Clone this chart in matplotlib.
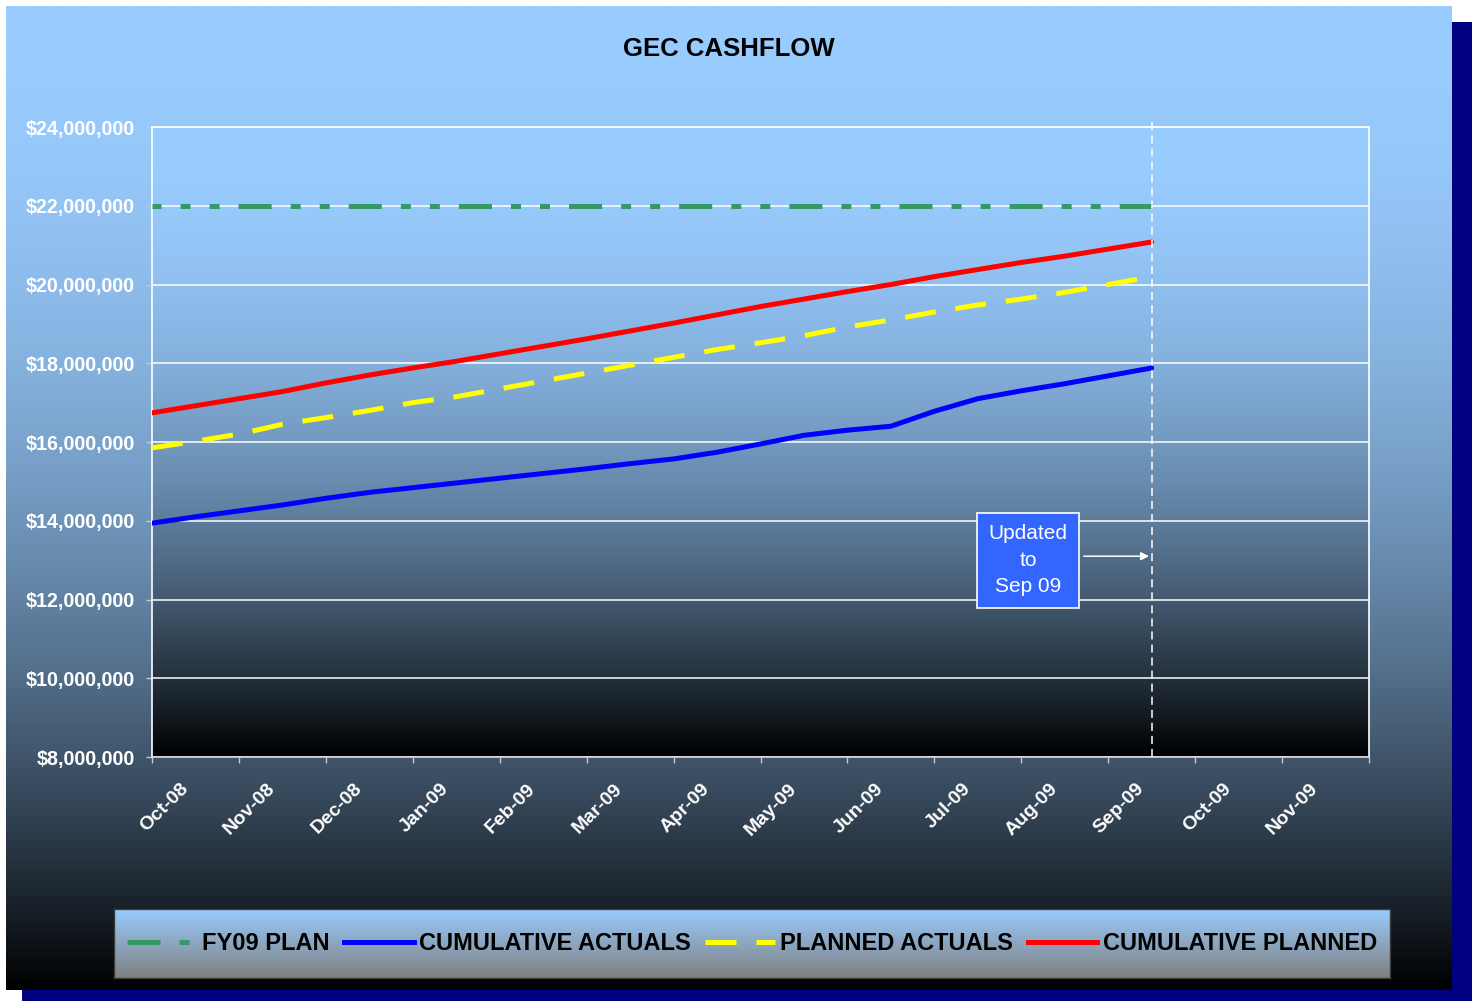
import numpy as np
import matplotlib
matplotlib.use('Agg')
import matplotlib.pyplot as plt
from matplotlib.lines import Line2D
from matplotlib.patches import Rectangle
from matplotlib.ticker import FuncFormatter
from matplotlib.transforms import ScaledTranslation

plt.rcParams['font.family'] = ['Liberation Sans', 'DejaVu Sans']
plt.rcParams['lines.scale_dashes'] = False

# data (millions of dollars), sampled every half month from the start of Oct-08
months = ['Oct-08', 'Nov-08', 'Dec-08', 'Jan-09', 'Feb-09', 'Mar-09', 'Apr-09',
          'May-09', 'Jun-09', 'Jul-09', 'Aug-09', 'Sep-09', 'Oct-09', 'Nov-09']
x_pos = np.arange(24) * 0.5
fy09_plan = [22.0] * 24
cum_actuals = [13.94, 14.10, 14.25, 14.40, 14.57, 14.72, 14.84, 14.96, 15.08, 15.20,
               15.32, 15.45, 15.57, 15.74, 15.95, 16.17, 16.30, 16.40, 16.78, 17.10,
               17.30, 17.48, 17.68, 17.88]
planned_actuals = [15.85, 16.02, 16.20, 16.45, 16.62, 16.80, 17.00, 17.15, 17.35, 17.55,
                   17.75, 17.95, 18.15, 18.35, 18.52, 18.70, 18.92, 19.10, 19.30, 19.48,
                   19.63, 19.80, 20.00, 20.20]
cum_planned = [16.74, 16.92, 17.10, 17.28, 17.50, 17.70, 17.88, 18.05, 18.24, 18.43,
               18.62, 18.82, 19.02, 19.23, 19.44, 19.63, 19.82, 20.00, 20.20, 20.38,
               20.56, 20.72, 20.90, 21.08]
series_names = ['FY09 PLAN', 'CUMULATIVE ACTUALS', 'PLANNED ACTUALS', 'CUMULATIVE PLANNED']

W, H = 1472, 1001
fig = plt.figure(figsize=(W / 100, H / 100), dpi=100)
fig.patch.set_facecolor('white')

base = np.array([153, 204, 255]) / 255.0
t = np.linspace(0, 1, 600)
grad = (base[None, :] * (1 - t ** 2)[:, None])[:, None, :]

# background: navy shadow + gradient chart area
bg = fig.add_axes([0, 0, 1, 1], zorder=-10)
bg.add_patch(Rectangle((22, 22), W - 22, H - 22, color='#000080', lw=0, zorder=1))
bg.imshow(grad, extent=[6, 1452, 990, 6], aspect='auto', interpolation='bilinear', zorder=2)
bg.set_xlim(0, W)
bg.set_ylim(H, 0)
bg.axis('off')

fig.text(729 / W, 1 - 49 / H, 'GEC CASHFLOW', ha='center', va='center',
         fontsize=18.5, fontweight='bold', color='black')

# main plot
ax = fig.add_axes([152 / W, 1 - 757 / H, 1217 / W, 630 / H])
ax.patch.set_visible(False)
ax.imshow(grad, extent=[0, 14, 8e6, 24e6], aspect='auto', interpolation='bilinear', zorder=0)

y = lambda v: np.array(v) * 1e6
green_dash = (17.3, (23.8, 13.7, 7.2, 13.7, 7.2, 13.7))
ax.plot(x_pos, y(fy09_plan), color='#339966', lw=3.6, linestyle=green_dash,
        dash_capstyle='butt', zorder=3)
ax.plot(x_pos, y(cum_actuals), color='#0000FF', lw=3.6, solid_capstyle='round', zorder=3)
ax.plot(x_pos, y(planned_actuals), color='#FFFF00', lw=3.6,
        linestyle=(0, (22.3, 14.4)), dash_capstyle='butt', zorder=3)
ax.plot(x_pos, y(cum_planned), color='#FF0000', lw=3.6, solid_capstyle='round', zorder=3)

# "updated to" marker
ax.plot([11.5, 11.5], [8e6, 24.15e6], color='white', lw=1.1,
        linestyle=(0, (5.8, 3.6)), clip_on=False, zorder=4)
ax.annotate('', xy=(11.47, 13.1e6), xytext=(10.72, 13.1e6),
            arrowprops=dict(arrowstyle='-|>', color='white', lw=1.1,
                            mutation_scale=12, shrinkA=0, shrinkB=0), zorder=5)
ax.text(10.08, 13.0e6, 'Updated\nto\nSep 09', ha='center', va='center',
        fontsize=15, color='white', linespacing=1.5, zorder=6,
        bbox=dict(boxstyle='square,pad=0.55', facecolor='#3366FF',
                  edgecolor='white', lw=1.2))

ax.set_xlim(0, 14)
ax.set_ylim(8e6, 24e6)
ax.set_yticks(np.arange(8e6, 24.1e6, 2e6))
ax.yaxis.set_major_formatter(FuncFormatter(lambda v, p: f'${v:,.0f}'))
ax.grid(axis='y', color='white', lw=1.1)
ax.set_xticks(np.arange(15))
ax.set_xticklabels([])
ax.set_xticks(np.arange(14) + 0.5, minor=True)
ax.set_xticklabels(months, minor=True)
ax.tick_params(axis='x', which='major', direction='out', length=4.3, color='#c8c8c8', width=1)
ax.tick_params(axis='x', which='minor', length=0, pad=21, labelsize=14, labelcolor='white')
ax.tick_params(axis='y', direction='out', length=4.3, color='#c8c8c8', width=1,
               pad=8, labelsize=14.2, labelcolor='white')
shift = ScaledTranslation(-10 / 100, 0, fig.dpi_scale_trans)
for lab in ax.get_xticklabels(minor=True):
    lab.set_rotation(45)
    lab.set_ha('right')
    lab.set_va('center')
    lab.set_rotation_mode('anchor')
    lab.set_fontweight('bold')
    lab.set_transform(lab.get_transform() + shift)
for lab in ax.get_yticklabels():
    lab.set_fontweight('bold')
for s in ax.spines.values():
    s.set_color('white')
    s.set_linewidth(1.2)
ax.spines['bottom'].set_color('#d8d8d8')

# legend box
lax = fig.add_axes([114 / W, 1 - 978 / H, 1276 / W, 69 / H])
lt = np.linspace(0, 1, 200)
lgrad = (base[None, :] * (1 - lt)[:, None] + np.array([0.5, 0.5, 0.5])[None, :] * lt[:, None])[:, None, :]
lax.imshow(lgrad, extent=[0, 1, 0, 1], aspect='auto', interpolation='bilinear')
lax.set_xlim(0, 1)
lax.set_ylim(0, 1)
lax.set_xticks([])
lax.set_yticks([])
for s in lax.spines.values():
    s.set_color('#3a3a3a')
    s.set_linewidth(1)

handles = [Line2D([], [], color='#339966', lw=3.6, linestyle=(0, (23.8, 13.7, 7.2, 13.7)),
                  dash_capstyle='butt'),
           Line2D([], [], color='#0000FF', lw=3.6),
           Line2D([], [], color='#FFFF00', lw=3.6, linestyle=(0, (22.3, 14.4)), dash_capstyle='butt'),
           Line2D([], [], color='#FF0000', lw=3.6)]
leg = lax.legend(handles, series_names, loc='center', ncol=4, frameon=False,
                 handlelength=2.95, handletextpad=0.22, columnspacing=0.62, borderaxespad=0,
                 prop=dict(family=['Liberation Sans', 'DejaVu Sans'], weight='bold', size=17.0))
for txt in leg.get_texts():
    txt.set_color('black')

fig.savefig('out.png', dpi=100)
